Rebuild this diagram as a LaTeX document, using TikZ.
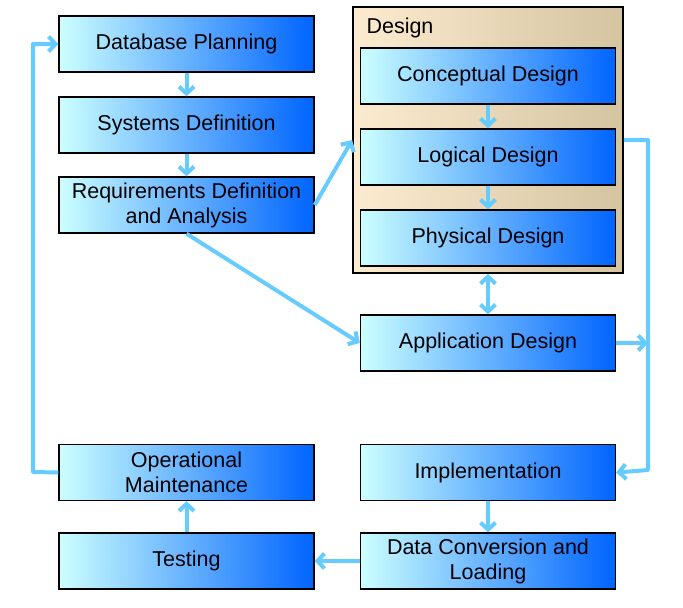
\documentclass[tikz,border=0pt]{standalone}
\usepackage{fontspec}
\setmainfont{Liberation Sans}
\usetikzlibrary{arrows.meta}

\definecolor{boxlight}{RGB}{204,255,255}
\definecolor{boxmid}{RGB}{50,150,255}
\definecolor{boxdark}{RGB}{0,100,255}
\definecolor{framelight}{RGB}{253,235,208}
\definecolor{framemid}{RGB}{240,234,215}
\definecolor{framedark}{RGB}{212,196,160}
\definecolor{flowblue}{RGB}{102,204,255}

\tikzset{
  stage/.style={draw=black, line width=1.4pt, left color=boxlight, middle color=boxmid,
    right color=boxdark, minimum width=255pt, minimum height=56pt, inner sep=0pt,
    align=center, font=\fontsize{21.5}{25}\selectfont},
  designframe/.style={draw=black, line width=1.8pt, left color=framelight,
    middle color=framemid, right color=framedark, minimum width=270pt,
    minimum height=266pt, inner sep=0pt},
  flow/.style={draw=flowblue, line width=4pt, line join=round,
    -{Straight Barb[length=7pt,width=15pt]}},
}

\begin{document}
\begin{tikzpicture}[x=1pt, y=-1pt]
    \useasboundingbox (0,0) rectangle (683,608);

    % Design frame
    \node [designframe] (design) at (488,140) {};
    \node [anchor=west, font=\fontsize{21.5}{25}\selectfont] (designlabel) at (363,28) {Design};

    % Stages
    \node [stage] (dbp) at (186.5,44) {Database Planning};
    \node [stage] (sysdef) at (186.5,125) {Systems Definition};
    \node [stage] (req) at (186.5,205) {Requirements Definition\\and Analysis};
    \node [stage] (concept) at (488,76) {Conceptual Design};
    \node [stage] (logical) at (488,157) {Logical Design};
    \node [stage] (physical) at (488,238) {Physical Design};
    \node [stage] (app) at (488,343) {Application Design};
    \node [stage] (opm) at (186.5,472.5) {Operational\\Maintenance};
    \node [stage] (impl) at (488,472.5) {Implementation};
    \node [stage] (test) at (186.5,561) {Testing};
    \node [stage] (dcl) at (488,561) {Data Conversion and\\Loading};

    % Bends
    \coordinate (rtop) at (648,140);
    \coordinate (rbot) at (648,470);
    \coordinate (lbot) at (33,472);
    \coordinate (ltop) at (33,44);

    % Flows
    \draw [flow] (dbp) -- (sysdef);
    \draw [flow] (sysdef) -- (req);
    \draw [flow] (req.east) -- (design.west);
    \draw [flow] (req.south) -- (app.west);
    \draw [flow] (concept) -- (logical);
    \draw [flow] (logical) -- (physical);
    \draw [flow, {Straight Barb[length=7pt,width=15pt]}-{Straight Barb[length=7pt,width=15pt]}] (design.south) -- (app.north);
    \draw [flow] (design.east) -- (rtop) -- (rbot) -- (impl.east);
    \draw [flow] (app.east) -- (app.east -| rtop);
    \draw [flow] (impl) -- (dcl);
    \draw [flow] (dcl) -- (test);
    \draw [flow] (test) -- (opm);
    \draw [flow] (opm.west) -- (lbot) -- (ltop) -- (dbp.west);
\end{tikzpicture}
\end{document}
